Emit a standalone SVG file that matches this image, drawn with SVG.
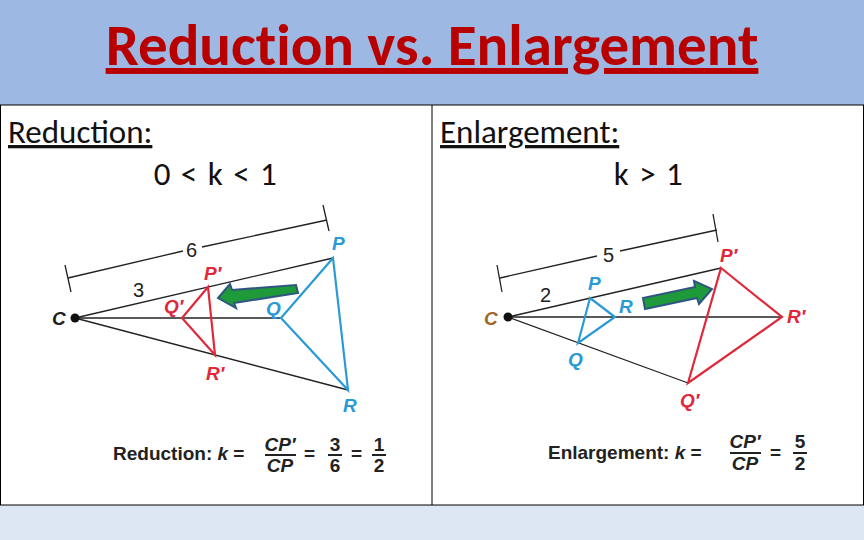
<svg xmlns="http://www.w3.org/2000/svg" width="864" height="540" viewBox="0 0 864 540">
<defs>
<style>
.thin{stroke:#222;stroke-width:1.3;fill:none}
.blue{stroke:#2a9ad6;stroke-width:2.2;fill:none}
.red{stroke:#e0283a;stroke-width:2.2;fill:none}
.lb{font-family:"Liberation Sans",Arial,sans-serif;font-weight:bold;font-style:italic;font-size:19px}
.num{font-family:"Liberation Sans Narrow","Liberation Sans",sans-serif;font-size:20px;fill:#222}
.lbb{fill:#2a9ad6}.lbr{fill:#e0283a}
.hd{font-family:Carlito,"Liberation Sans",sans-serif;font-size:33px;fill:#111}
.fm{font-family:"Liberation Sans Narrow","Liberation Sans",sans-serif;font-weight:bold;font-size:19px;fill:#222}
.arr{fill:#1f9a3a;stroke:#2f5680;stroke-width:2}
</style>
</defs>
<rect x="0" y="0" width="864" height="105" fill="#9db9e3"/>
<rect x="0" y="505" width="864" height="35" fill="#dde6f3"/>
<rect x="0.5" y="105" width="863" height="400" fill="#fff" stroke="#000"/>
<line x1="432" y1="105" x2="432" y2="505" stroke="#000"/>
<text x="432" y="65" text-anchor="middle" font-family="Carlito,'Liberation Sans',sans-serif" font-weight="bold" font-size="59" fill="#b80000" text-decoration="underline" style="font-variant-ligatures:none">Reduction vs. Enlargement</text>
<text class="hd" x="8" y="143" text-decoration="underline">Reduction:</text>
<text class="hd" x="216" y="185" text-anchor="middle" letter-spacing="1.5">0 &lt; k &lt; 1</text>
<text class="hd" x="440" y="143" text-decoration="underline">Enlargement:</text>
<text class="hd" x="649" y="185" text-anchor="middle" letter-spacing="1.5">k &gt; 1</text>
<g id="left">
<g id="connectors-left">
<line class="thin" x1="68" y1="278" x2="183" y2="251"/><line class="thin" x1="202" y1="247" x2="327" y2="220"/>
<line class="thin" x1="65" y1="265" x2="71" y2="292"/><line class="thin" x1="323" y1="205" x2="329" y2="231"/>
<line class="thin" x1="75" y1="318" x2="333" y2="258"/>
<line class="thin" x1="75" y1="318" x2="281" y2="318"/>
<line class="thin" x1="75" y1="318" x2="348" y2="390"/>
</g>
<polygon class="blue" points="333,258 281,318 348,390"/>
<polygon class="red" points="208,287 182,318 215,355"/>
<circle cx="75" cy="318" r="4.5" fill="#111"/>
<path class="arr" d="M296,285 L298,293 L234,303 L236,308 L218,298 L230,284 L232,290 Z"/>
<text class="lb" x="52" y="325" fill="#222">C</text>
<text class="num" x="133" y="297">3</text>
<text class="num" x="186" y="257">6</text>
<text class="lb lbb" x="332" y="250">P</text>
<text class="lb lbr" x="204" y="280">P′</text>
<text class="lb lbr" x="164" y="313">Q′</text>
<text class="lb lbb" x="266" y="315">Q</text>
<text class="lb lbr" x="206" y="380">R′</text>
<text class="lb lbb" x="343" y="412">R</text>
<text class="fm" x="113" y="460">Reduction: <tspan font-style="italic">k</tspan> =</text>
<text class="fm" x="280" y="451" text-anchor="middle" font-style="italic">CP′</text>
<line x1="265" y1="455" x2="296" y2="455" stroke="#222" stroke-width="2"/>
<text class="fm" x="280" y="472" text-anchor="middle" font-style="italic">CP</text>
<text class="fm" x="304" y="460">=</text>
<text class="fm" x="335" y="451" text-anchor="middle">3</text>
<line x1="328" y1="455" x2="342" y2="455" stroke="#222" stroke-width="2"/>
<text class="fm" x="335" y="472" text-anchor="middle">6</text>
<text class="fm" x="351" y="460">=</text>
<text class="fm" x="379" y="451" text-anchor="middle">1</text>
<line x1="372" y1="455" x2="386" y2="455" stroke="#222" stroke-width="2"/>
<text class="fm" x="379" y="472" text-anchor="middle">2</text>
</g>
<g id="right">
<g id="connectors-right">
<line class="thin" x1="500" y1="278" x2="597" y2="256"/><line class="thin" x1="620" y1="251" x2="717" y2="230"/>
<line class="thin" x1="497" y1="265" x2="502" y2="292"/><line class="thin" x1="713" y1="214" x2="718" y2="242"/>
<line class="thin" x1="508" y1="317" x2="721" y2="268"/>
<line class="thin" x1="508" y1="317" x2="782" y2="317"/>
<line class="thin" x1="508" y1="317" x2="688" y2="383"/>
</g>
<polygon class="blue" points="590,298 615,317 578,343"/>
<polygon class="red" points="721,268 782,317 688,383"/>
<circle cx="508" cy="317" r="4.5" fill="#111"/>
<path class="arr" d="M643,298 L645,309 L697,298 L699,304 L712,289 L694,281 L695,287 Z"/>
<text class="lb" x="484" y="325" fill="#a0682a">C</text>
<text class="num" x="540" y="302">2</text>
<text class="num" x="603" y="262">5</text>
<text class="lb lbb" x="588" y="290">P</text>
<text class="lb lbb" x="619" y="313">R</text>
<text class="lb lbb" x="568" y="366">Q</text>
<text class="lb lbr" x="720" y="262">P′</text>
<text class="lb lbr" x="787" y="323">R′</text>
<text class="lb lbr" x="680" y="407">Q′</text>
<text class="fm" x="548" y="459">Enlargement: <tspan font-style="italic">k</tspan> =</text>
<text class="fm" x="745" y="448" text-anchor="middle" font-style="italic">CP′</text>
<line x1="730" y1="453" x2="761" y2="453" stroke="#222" stroke-width="2"/>
<text class="fm" x="745" y="470" text-anchor="middle" font-style="italic">CP</text>
<text class="fm" x="770" y="459">=</text>
<text class="fm" x="800" y="448" text-anchor="middle">5</text>
<line x1="793" y1="453" x2="807" y2="453" stroke="#222" stroke-width="2"/>
<text class="fm" x="800" y="470" text-anchor="middle">2</text>
</g>
</svg>
